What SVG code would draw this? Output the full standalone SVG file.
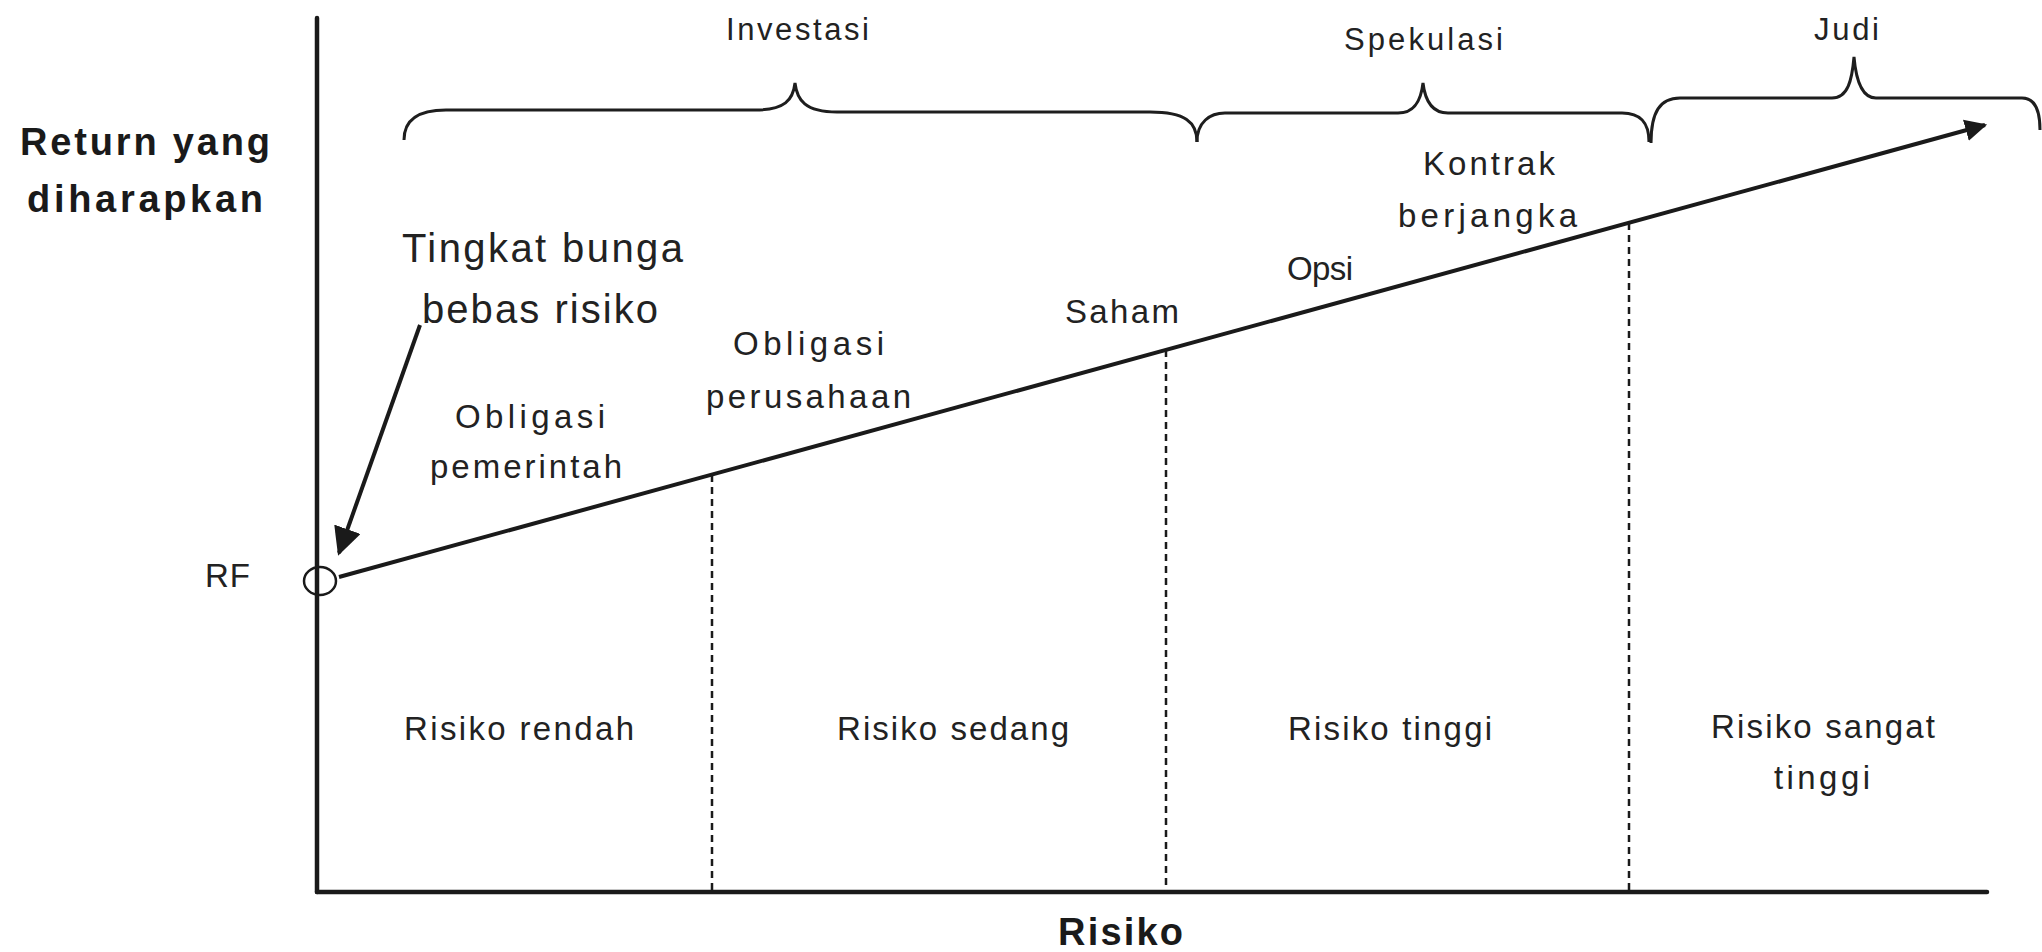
<svg xmlns="http://www.w3.org/2000/svg" width="2042" height="952" viewBox="0 0 2042 952">
<style>
.t{font-family:"Liberation Sans",Arial,sans-serif;fill:#222222;font-size:33px}
.b{font-family:"Liberation Sans",Arial,sans-serif;fill:#1a1a1a;font-size:38px;font-weight:bold}
.big{font-size:40px}
.top{font-size:31px}
.ax{stroke:#1a1a1a;stroke-width:4.5;fill:none;stroke-linecap:round}
.dash{stroke:#1a1a1a;stroke-width:2.5;stroke-dasharray:7 5;fill:none}
.br{stroke:#1e1e1e;stroke-width:3;fill:none}
.ln{stroke:#1a1a1a;stroke-width:4;fill:none}
</style>
<defs>
<marker id="ah" viewBox="0 0 10 10" refX="9" refY="5" markerWidth="5.5" markerHeight="5.5" orient="auto" markerUnits="strokeWidth">
<path d="M0,0 L10,5 L0,10 z" fill="#1a1a1a"/>
</marker>
<marker id="ah2" viewBox="0 0 10 10" refX="9" refY="5" markerWidth="7" markerHeight="7" orient="auto" markerUnits="strokeWidth">
<path d="M0,0 L10,5 L0,10 z" fill="#1a1a1a"/>
</marker>
</defs>
<rect width="2042" height="952" fill="#ffffff"/>

<g id="axes">
<line class="ax" x1="317" y1="18" x2="317" y2="892"/>
<line class="ax" x1="317" y1="892" x2="1987" y2="892"/>
</g>

<g id="braces">
<path class="br" d="M404,140 C404,120 418,110 446,110 L755,110 C785,110 793,100 795,83 C797,100 805,112 837,112 L1150,112 C1185,112 1197,122 1197,142"/>
<path class="br" d="M1197,142 C1197,122 1210,113 1225,113 L1398,113 C1415,113 1421,100 1423,83 C1425,100 1432,113 1448,113 L1622,113 C1640,113 1649,122 1649,142"/>
<path class="br" d="M1651,143 C1651,112 1660,98 1680,98 L1832,98 C1848,98 1852,80 1854,57 C1856,80 1862,98 1876,98 L2022,98 C2034,98 2040,108 2040,130"/>
</g>

<g id="connectors">
<line class="ln" x1="339" y1="577" x2="1985" y2="125" marker-end="url(#ah)"/>
<line class="ln" x1="420" y1="325" x2="339" y2="553" stroke-width="2.8" marker-end="url(#ah2)"/>
<line class="dash" x1="712" y1="475" x2="712" y2="892"/>
<line class="dash" x1="1166" y1="350" x2="1166" y2="892"/>
<line class="dash" x1="1629" y1="223" x2="1629" y2="892"/>
</g>

<g id="rf-point">
<ellipse cx="320" cy="581" rx="16" ry="14" fill="none" stroke="#1a1a1a" stroke-width="2.5"/>
<text class="t" x="205" y="587" textLength="45" lengthAdjust="spacing">RF</text>
</g>

<g id="label-return">
<text class="b" x="20" y="155" textLength="250" lengthAdjust="spacing">Return yang</text>
<text class="b" x="27" y="212" textLength="236" lengthAdjust="spacing">diharapkan</text>
</g>
<g id="label-risiko">
<text class="b" x="1058" y="945" textLength="125" lengthAdjust="spacing">Risiko</text>
</g>

<g id="cat-investasi"><text class="t top" x="726" y="40" textLength="143" lengthAdjust="spacing">Investasi</text></g>
<g id="cat-spekulasi"><text class="t top" x="1344" y="50" textLength="159" lengthAdjust="spacing">Spekulasi</text></g>
<g id="cat-judi"><text class="t top" x="1814" y="40" textLength="65" lengthAdjust="spacing">Judi</text></g>

<g id="label-rf-rate">
<text class="t big" x="402" y="262" textLength="281" lengthAdjust="spacing">Tingkat bunga</text>
<text class="t big" x="422" y="323" textLength="236" lengthAdjust="spacing">bebas risiko</text>
</g>

<g id="asset-obligasi-pemerintah">
<text class="t" x="455" y="428" textLength="150" lengthAdjust="spacing">Obligasi</text>
<text class="t" x="430" y="478" textLength="192" lengthAdjust="spacing">pemerintah</text>
</g>
<g id="asset-obligasi-perusahaan">
<text class="t" x="733" y="355" textLength="151" lengthAdjust="spacing">Obligasi</text>
<text class="t" x="706" y="408" textLength="205" lengthAdjust="spacing">perusahaan</text>
</g>
<g id="asset-saham"><text class="t" x="1065" y="323" textLength="114" lengthAdjust="spacing">Saham</text></g>
<g id="asset-opsi"><text class="t" x="1287" y="280" textLength="66" lengthAdjust="spacing">Opsi</text></g>
<g id="asset-kontrak">
<text class="t" x="1423" y="175" textLength="132" lengthAdjust="spacing">Kontrak</text>
<text class="t" x="1398" y="227" textLength="179" lengthAdjust="spacing">berjangka</text>
</g>

<g id="zone-rendah"><text class="t" x="404" y="740" textLength="230" lengthAdjust="spacing">Risiko rendah</text></g>
<g id="zone-sedang"><text class="t" x="837" y="740" textLength="232" lengthAdjust="spacing">Risiko sedang</text></g>
<g id="zone-tinggi"><text class="t" x="1288" y="740" textLength="204" lengthAdjust="spacing">Risiko tinggi</text></g>
<g id="zone-sangat-tinggi">
<text class="t" x="1711" y="738" textLength="224" lengthAdjust="spacing">Risiko sangat</text>
<text class="t" x="1774" y="789" textLength="96" lengthAdjust="spacing">tinggi</text>
</g>
</svg>
